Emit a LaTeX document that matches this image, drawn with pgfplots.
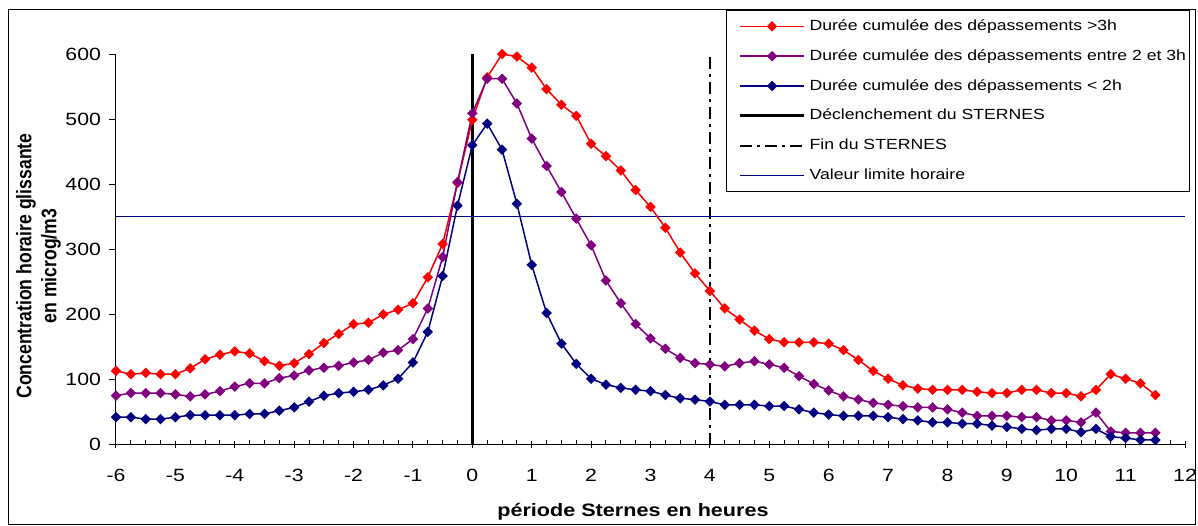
\documentclass[border=0pt]{standalone}
\usepackage{fontspec}
\setmainfont{Liberation Sans}
\usepackage{graphicx}
\usepackage{pgfplots}
\pgfplotsset{compat=1.18}
\definecolor{cred}{RGB}{255,0,0}
\definecolor{cpurple}{RGB}{128,0,128}
\definecolor{cnavy}{RGB}{0,0,128}
\newcommand{\sx}[1]{\scalebox{1.2}[1]{#1}}
\newcommand{\lgd}[1]{\makebox[182pt][l]{\sx{#1}}}

\pgfplotstableread{
x r p b
-6 113 75 42
-5.75 108 79 42
-5.5 110 79 39
-5.25 108 79 39
-5 108 77 42
-4.75 117 74 45
-4.5 131 77 45
-4.25 138 82 45
-4 143 89 45
-3.75 140 94 47
-3.5 128 94 47
-3.25 121 102 52
-3 125 106 57
-2.75 139 114 66
-2.5 156 118 75
-2.25 170 121 79
-2 185 126 81
-1.75 187 130 84
-1.5 200 141 91
-1.25 207 145 101
-1 217 162 126
-0.75 257 209 173
-0.5 308 288 259
-0.25 402 403 367
0 499 509 460
0.25 564 562 493
0.5 600 562 453
0.75 596 524 370
1 579 470 276
1.25 546 428 202
1.5 522 388 155
1.75 505 347 124
2 462 306 101
2.25 443 252 92
2.5 421 217 87
2.75 391 185 84
3 365 163 82
3.25 333 147 76
3.5 295 133 71
3.75 263 125 69
4 236 123 66
4.25 209 120 61
4.5 192 125 61
4.75 175 128 61
5 162 123 59
5.25 157 118 59
5.5 157 105 54
5.75 157 93 49
6 155 83 46
6.25 145 74 44
6.5 130 69 44
6.75 113 64 44
7 101 61 42
7.25 91 59 39
7.5 86 57 37
7.75 84 57 34
8 84 54 34
8.25 84 49 32
8.5 81 44 32
8.75 79 44 29
9 79 44 27
9.25 84 42 24
9.5 84 42 22
9.75 79 37 24
10 79 37 24
10.25 74 34 19
10.5 84 49 24
10.75 108 20 12
11 101 18 10
11.25 94 18 7
11.5 76 18 7
}\data

\begin{document}
\begin{tikzpicture}
\useasboundingbox (0,0) rectangle (599pt,262.5pt);
\draw[line width=0.5pt] (4pt,0.5pt) rectangle (597.5pt,257.5pt);
\begin{axis}[
  at={(58pt,40.25pt)}, anchor=south west,
  scale only axis, width=534.5pt, height=195.25pt,
  xmin=-6, xmax=12, ymin=0, ymax=600,
  axis x line=bottom, axis y line=left,
  axis line style={-, line width=0.5pt, black},
  xtick={-6,-5,...,12}, minor x tick num=3,
  ytick={0,100,...,600},
  tick align=outside, major tick length=3.3pt, minor tick length=2.3pt,
  tick style={black, line width=0.5pt},
  minor x tick style={yshift=2.3pt},
  major x tick style={yshift=1.6pt},
  /pgf/number format/assume math mode=true,
  ticklabel style={font=\fontsize{8.85}{10}\selectfont, xscale=1.2},
  xticklabel style={yshift=-5.5pt},
  xlabel={\sx{période Sternes en heures}},
  xlabel style={at={(axis description cs:0.4836,-0.1720)}, anchor=center, font=\bfseries\fontsize{9}{10}\selectfont},
  ylabel={\scalebox{1}[1.2]{Concentration horaire glissante}\\\scalebox{1}[1.2]{en microg/m3}},
  ylabel style={at={(axis description cs:-0.0725,0.457)}, anchor=center, align=center, font=\bfseries\fontsize{8.8}{12.5}\selectfont},
  clip=false,
  legend style={at={(axis description cs:0.5706,1.1127)}, anchor=north west, draw=black, line width=0.6pt,
    font=\fontsize{7.35}{8.5}\selectfont, row sep=5.1pt, inner xsep=6pt, inner ysep=3pt,
    nodes={text height=6pt, text depth=1.8pt, inner ysep=1pt}},
  legend cell align=left,
  legend image code/.code={\draw[mark repeat=2,mark phase=2] plot coordinates {(0pt,0pt) (16pt,0pt) (32pt,0pt)};},
]
\addplot[black, line width=1.5pt, forget plot] coordinates {(0,0) (0,600)};
\addplot[black, line width=1pt, dash pattern=on 6pt off 2.5pt on 1.5pt off 2.5pt, forget plot] coordinates {(4,0) (4,600)};
\addplot[cnavy, line width=0.75pt, forget plot] coordinates {(-6,350) (12,350)};
\addplot[cred, line width=0.75pt, mark=diamond*, mark size=2.1pt, mark options={solid, xscale=1.33}] table[x=x, y=r] {\data};
\addlegendentry{\lgd{Durée cumulée des dépassements >3h}}
\addplot[cpurple, line width=0.75pt, mark=diamond*, mark size=2.1pt, mark options={solid, xscale=1.33}] table[x=x, y=p] {\data};
\addlegendentry{\lgd{Durée cumulée des dépassements entre 2 et 3h}}
\addplot[cnavy, line width=0.75pt, mark=diamond*, mark size=2.1pt, mark options={solid, xscale=1.33}] table[x=x, y=b] {\data};
\addlegendentry{\lgd{Durée cumulée des dépassements < 2h}}
\addlegendimage{black, line width=1.5pt}
\addlegendentry{\lgd{Déclenchement du STERNES}}
\addlegendimage{black, line width=1pt, dash pattern=on 6pt off 2.5pt on 1.5pt off 2.5pt}
\addlegendentry{\lgd{Fin du STERNES}}
\addlegendimage{cnavy, line width=0.75pt}
\addlegendentry{\lgd{Valeur limite horaire}}
\end{axis}
\end{tikzpicture}
\end{document}
